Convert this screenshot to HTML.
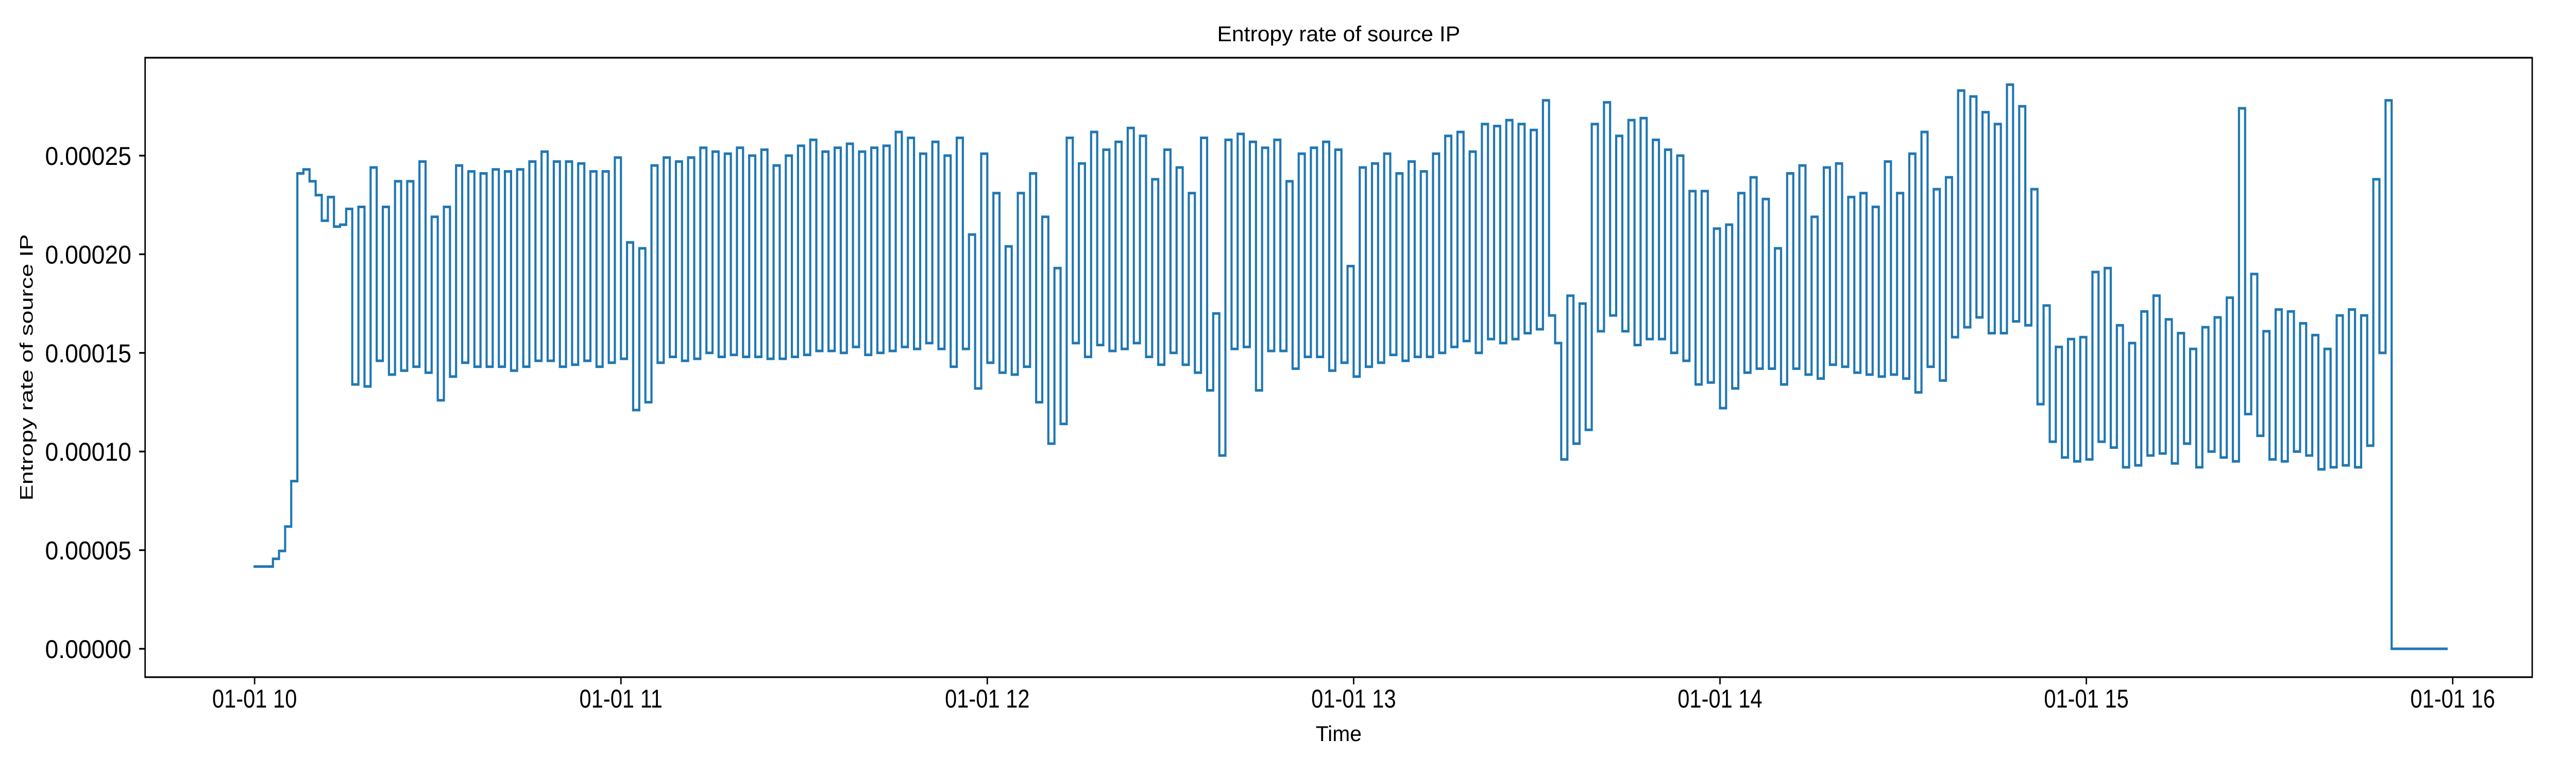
<!DOCTYPE html>
<html><head><meta charset="utf-8"><title>Entropy rate of source IP</title>
<style>html,body{margin:0;padding:0;background:#fff;width:100%;height:100%;overflow:hidden}svg{display:block;width:100vw;height:100vh}text{font-family:"Liberation Sans",sans-serif;fill:#000}</style>
</head><body>
<svg id="chart" viewBox="0 0 6000 1500" preserveAspectRatio="none" xmlns="http://www.w3.org/2000/svg">
<rect x="0" y="0" width="6000" height="1500" fill="#fff"/>
<text x="3118" y="80" font-size="42" text-anchor="middle" textLength="566" lengthAdjust="spacingAndGlyphs">Entropy rate of source IP</text>
<text x="3118" y="1438" font-size="42" text-anchor="middle" textLength="107" lengthAdjust="spacingAndGlyphs">Time</text>
<text transform="translate(76,713) rotate(-90)" font-size="42" text-anchor="middle" textLength="517" lengthAdjust="spacingAndGlyphs">Entropy rate of source IP</text>
<g id="ticks"></g>
<path id="series" fill="none" stroke="#1f77b4" stroke-width="5" stroke-linejoin="miter" stroke-linecap="square"/>
<rect x="338" y="112" width="5560" height="1202" fill="none" stroke="#000" stroke-width="3.3"/>
</svg>
<script>
// minutes after 01-01 10:00
const yTickValues = [0, 0.00005, 0.0001, 0.00015, 0.0002, 0.00025];
const yTickLabels = ["0.00000","0.00005","0.00010","0.00015","0.00020","0.00025"];
const xTickMinutes = [0, 60, 120, 180, 240, 300, 360];
const xTickLabels = ["01-01 10","01-01 11","01-01 12","01-01 13","01-01 14","01-01 15","01-01 16"];
const seriesStartMinute = 0;
const seriesEndMinute = 359;
const entropyValues = [
0.0000417,0.0000417,0.0000417,0.0000456,0.0000496,0.000062,0.000085,
0.000241,0.000243,0.000237,0.000230,0.000217,0.000229,0.000214,0.000215,0.000223,0.000134,0.000224,0.000133,
0.000244,0.000146,0.000224,0.000139,0.000237,0.000141,0.000237,0.000143,0.000247,0.000140,0.000219,0.000126,0.000224,0.000138,0.000245,0.000145,0.000242,0.000143,0.000241,0.000143,0.000243,0.000143,0.000242,0.000141,0.000243,0.000143,0.000247,0.000146,0.000252,0.000146,0.000247,0.000143,0.000247,0.000144,0.000246,0.000146,0.000242,0.000143,
0.000242,0.000145,0.000249,0.000147,0.000206,0.000121,0.000203,0.000125,0.000245,0.000145,0.000249,0.000148,0.000247,0.000146,0.000249,0.000147,0.000254,0.000150,0.000252,0.000148,0.000251,0.000149,0.000254,0.000148,0.000250,0.000148,0.000253,0.000147,0.000245,0.000147,0.000250,0.000148,0.000255,0.000149,0.000258,0.000151,0.000252,0.000151,0.000254,0.000150,0.000256,0.000153,0.000252,0.000149,0.000254,0.000150,0.000255,0.000151,0.000262,0.000153,0.000259,0.000152,0.000251,0.000155,0.000257,0.000152,0.000250,0.000143,0.000259,0.000152,0.000210,0.000132,
0.000251,0.000145,0.000231,0.000140,0.000204,0.000139,0.000231,0.000143,0.000241,0.000125,0.000219,0.000104,0.000193,0.000114,0.000259,0.000155,0.000246,0.000148,0.000262,0.000154,0.000253,0.000151,0.000257,0.000152,0.000264,0.000155,0.000260,0.000148,0.000238,0.000144,0.000253,0.000150,0.000244,0.000144,0.000231,0.000140,0.000259,0.000131,0.000170,0.000098,0.000258,0.000152,0.000261,0.000153,0.000257,0.000131,0.000254,0.000151,0.000258,0.000151,0.000237,0.000142,0.000251,0.000148,0.000254,0.000148,0.000257,0.000141,0.000253,0.000145,0.000194,0.000138,
0.000244,0.000143,0.000246,0.000145,0.000251,0.000149,0.000241,0.000146,0.000247,0.000148,0.000242,0.000148,0.000251,0.000150,0.000260,0.000153,0.000262,0.000156,0.000252,0.000150,0.000266,0.000157,0.000265,0.000155,0.000268,0.000157,0.000266,0.000160,0.000263,0.000162,0.000278,0.000169,0.000155,0.000096,0.000179,0.000104,0.000175,0.000111,0.000266,0.000161,0.000277,0.000169,0.000260,0.000161,0.000268,0.000154,0.000269,0.000157,0.000258,0.000157,0.000253,0.000150,0.000250,0.000146,0.000232,0.000134,0.000232,0.000135,0.000213,0.000122,0.000215,0.000132,0.000231,
0.000140,0.000239,0.000142,0.000228,0.000142,0.000203,0.000134,0.000241,0.000142,0.000245,0.000139,0.000219,0.000137,0.000244,0.000144,0.000246,0.000143,0.000229,0.000140,0.000231,0.000139,0.000224,0.000138,0.000247,0.000139,0.000231,0.000137,0.000251,0.000130,0.000262,0.000143,0.000233,0.000136,0.000239,0.000158,0.000283,0.000163,0.000280,0.000168,0.000272,0.000160,0.000266,0.000160,0.000286,0.000166,0.000275,0.000164,0.000233,0.000124,0.000174,0.000105,0.000153,0.000097,0.000157,0.000095,0.000158,0.000096,0.000191,0.000105,0.000193,0.000102,0.000164,
0.000092,0.000155,0.000093,0.000171,0.000098,0.000179,0.000099,0.000167,0.000094,0.000160,0.000104,0.000152,0.000092,0.000163,0.000100,0.000168,0.000097,0.000178,0.000095,0.000274,0.000119,0.000190,0.000108,0.000161,0.000096,0.000172,0.000095,0.000171,0.000100,0.000165,0.000098,0.000159,0.000091,0.000152,0.000092,0.000169,0.000093,0.000172,0.000092,0.000169,0.000103,0.000238,0.000150,0.000278,
0,0,0,0,0,0,0,0,0
];

const PX_PER_MIN = 853.3 / 60;
function xScale(m){ return 593 + (m - 0) * PX_PER_MIN; }
function yScale(v){ return 1259 - (v / 0.00025) * 957; }

const NS = "http://www.w3.org/2000/svg";
const ticks = document.getElementById("ticks");

yTickValues.forEach((v, i) => {
  const y = yScale(v);
  const t = document.createElementNS(NS, "line");
  t.setAttribute("x1", 324); t.setAttribute("x2", 338);
  t.setAttribute("y1", y); t.setAttribute("y2", y);
  t.setAttribute("stroke", "#000"); t.setAttribute("stroke-width", "3.3");
  
  
  ticks.appendChild(t);
  const lb = document.createElementNS(NS, "text");
  lb.setAttribute("x", 306); lb.setAttribute("y", y + 18);
  lb.setAttribute("font-size", "50"); lb.setAttribute("text-anchor", "end");
  lb.setAttribute("textLength", "201"); lb.setAttribute("lengthAdjust", "spacingAndGlyphs");
  lb.textContent = yTickLabels[i];
  
  
  ticks.appendChild(lb);
});

xTickMinutes.forEach((m, i) => {
  const x = xScale(m);
  const t = document.createElementNS(NS, "line");
  t.setAttribute("x1", x); t.setAttribute("x2", x);
  t.setAttribute("y1", 1314); t.setAttribute("y2", 1328);
  t.setAttribute("stroke", "#000"); t.setAttribute("stroke-width", "3.3");
  
  
  ticks.appendChild(t);
  const lb = document.createElementNS(NS, "text");
  lb.setAttribute("x", x); lb.setAttribute("y", 1373);
  lb.setAttribute("font-size", "50"); lb.setAttribute("text-anchor", "middle");
  lb.textContent = xTickLabels[i];
  
  
  ticks.appendChild(lb);
});

let d = "M" + xScale(seriesStartMinute).toFixed(1) + "," + yScale(entropyValues[0]).toFixed(1);
for (let i = 0; i < entropyValues.length; i++) {
  const m = seriesStartMinute + i;
  if (i > 0) d += " V" + yScale(entropyValues[i]).toFixed(1);
  const nextM = (i === entropyValues.length - 1) ? seriesEndMinute : m + 1;
  d += " H" + xScale(nextM).toFixed(1);
}
document.getElementById("series").setAttribute("d", d);
</script>
</body></html>
